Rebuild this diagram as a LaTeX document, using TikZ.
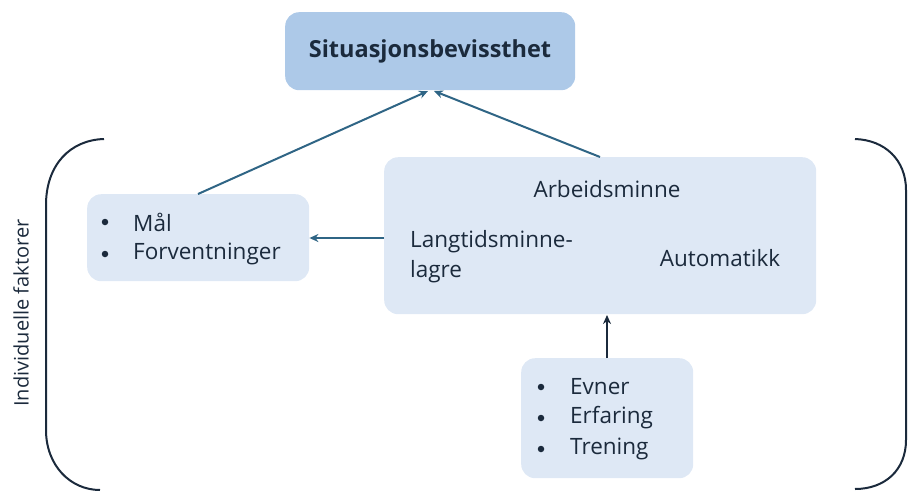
\documentclass[tikz,border=0pt]{standalone}
\usepackage{fontspec}
\setmainfont{Open Sans}
\usetikzlibrary{arrows.meta}
\definecolor{topfill}{HTML}{ADC9E8}
\definecolor{boxfill}{HTML}{DEE8F5}
\definecolor{navy}{HTML}{1B2A3C}
\definecolor{arrowc}{HTML}{2F6585}
\begin{document}
\begin{tikzpicture}[x=1pt,y=-1pt,
  box/.style={fill=boxfill,rounded corners=14pt,draw=none},
  txt/.style={font=\fontsize{22.5}{26}\selectfont,text=navy,inner sep=0pt},
  bul/.style={circle,fill=navy,inner sep=0pt,minimum size=6.5pt},
  conn/.style={draw=arrowc,line width=2pt,-{Stealth[length=9pt,width=8pt]}},
  bracket/.style={draw=navy,line width=2pt}]
\useasboundingbox (0,0) rectangle (908,491);
% boxes
\node[box,fill=topfill,minimum width=290pt,minimum height=78pt,anchor=north west] (top) at (285,12) {};
\node[txt,font=\fontsize{23.5}{27}\selectfont\bfseries] (toplab) at (430,51) {Situasjonsbevissthet};
\node[box,minimum width=222pt,minimum height=87pt,anchor=north west] (left) at (87,194) {};
\node[box,minimum width=432pt,minimum height=157pt,anchor=north west] (big) at (384,157) {};
\node[box,minimum width=172pt,minimum height=120pt,anchor=north west] (bot) at (521,358) {};
% texts
\node[txt] (arb) at (607,189) {Arbeidsminne};
\node[txt,anchor=west] (lang) at (410,242) {Langtidsminne-};
\node[txt,anchor=west] (lagre) at (410,272) {lagre};
\node[txt] (auto) at (720,258) {Automatikk};
\node[bul] (b1) at (105,222) {};
\node[txt,anchor=west] (mal) at (133,222) {Mål};
\node[bul] (b2) at (105,254) {};
\node[txt,anchor=west] (forv) at (133,254) {Forventninger};
\node[bul] (b3) at (541,387) {};
\node[txt,anchor=west] (evn) at (570,387) {Evner};
\node[bul] (b4) at (541,418) {};
\node[txt,anchor=west] (erf) at (570,418) {Erfaring};
\node[bul] (b5) at (541,449) {};
\node[txt,anchor=west] (tren) at (570,449) {Trening};
\node[txt,font=\fontsize{20}{24}\selectfont,rotate=90] (ind) at (21,313) {Individuelle faktorer};
% connectors
\coordinate (tipA) at (428,91);
\coordinate (tipB) at (434,91);
\draw[conn] (198,194) -- (tipA);
\draw[conn] (600,157) -- (tipB);
\draw[conn] (big.west |- 0,238) -- (left.east |- 0,238);
\draw[conn,draw=navy] (607,358) -- (607,315);
% brackets
\draw[bracket] (104,139) .. controls (70,140) and (46,165) .. (46,205) -- (46,430) .. controls (46,465) and (70,490) .. (100,490);
\draw[bracket] (855,139) .. controls (885,140) and (906,160) .. (906,190) -- (906,440) .. controls (906,470) and (885,489) .. (855,489);
\end{tikzpicture}
\end{document}
